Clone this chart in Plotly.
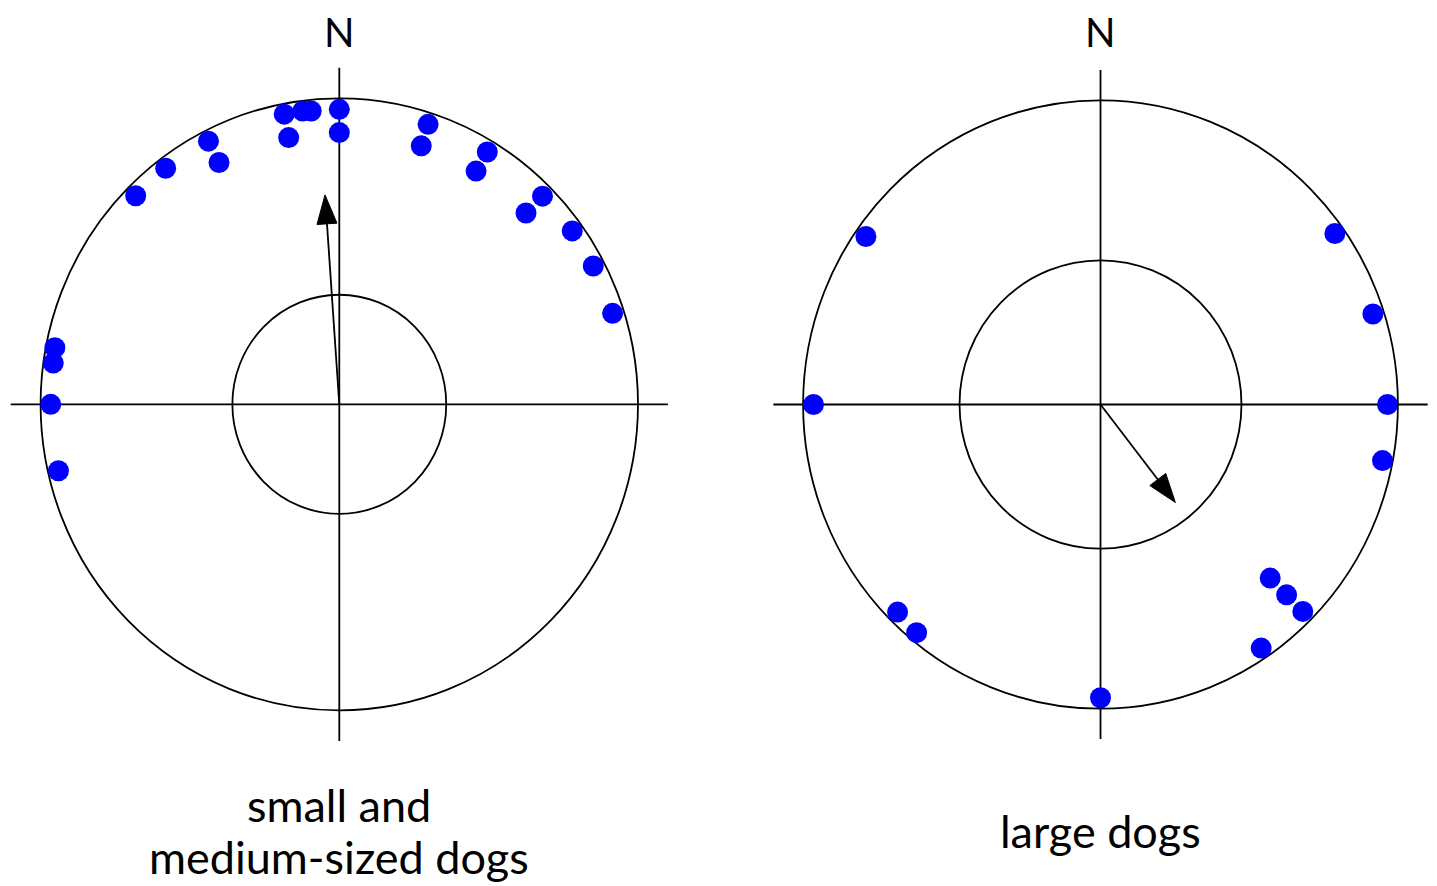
import math
import plotly.graph_objects as go

# ---------------- data ----------------
panel_title_lines = [["small and", "medium-sized dogs"], ["large dogs"]]
north_label = "N"

# bearings (degrees clockwise from north) and radial positions of each dog (outer circle = 1)
small_angles = [0, 0, 352.7, 354.4, 349, 349, 333, 333, 323, 315, 281, 278, 270, 257,
                18, 18, 31, 31, 45, 45, 54, 62, 72]
small_radii = [0.964, 0.888, 0.966, 0.963, 0.966, 0.888, 0.965, 0.887, 0.966, 0.964, 0.970,
               0.967, 0.966, 0.965, 0.962, 0.888, 0.962, 0.889, 0.962, 0.884, 0.964, 0.963, 0.962]

large_angles = [305, 54.5, 72, 270, 90, 101, 225, 219.5, 135, 135, 135, 146, 180]
large_radii = [0.963, 0.968, 0.963, 0.965, 0.965, 0.966, 0.965, 0.972, 0.807, 0.885, 0.962,
               0.966, 0.964]

# mean vector (bearing, length) and critical (Rayleigh) circle radius
mean_angle = [356, 142]
mean_length = [0.686, 0.409]
inner_radius = [0.358, 0.474]

# ---------------- layout ----------------
PAGE_OFFSET = 8                      # default body margin of the html page
W, H = 1437 - PAGE_OFFSET, 886 - PAGE_OFFSET
RANGE = 1.105
# panel centres (page pixels) and pixels per unit radius (x, y)
centres = [(339.3, 404.3), (1100.5, 404.5)]
scales = [(298.7, 306.0), (297.4, 304.2)]
# vertical centre (page pixels) of each title line
title_line_y = [[805, 857], [831]]

domains_x, domains_y = [], []
for (cx, cy), (sx, sy) in zip(centres, scales):
    cx -= PAGE_OFFSET
    cy -= PAGE_OFFSET
    domains_x.append(((cx - RANGE * sx) / W, (cx + RANGE * sx) / W))
    domains_y.append(((H - (cy + RANGE * sy)) / H, (H - (cy - RANGE * sy)) / H))

LINE = dict(color="black", width=1.8)
DOT = "#0000FF"
FONT = "Lato"

fig = go.Figure()
shapes = []
annotations = []

panels = [(small_angles, small_radii), (large_angles, large_radii)]
for i, (angs, rads) in enumerate(panels):
    xa = "x" if i == 0 else "x2"
    ya = "y" if i == 0 else "y2"
    px_x, px_y = scales[i]

    # cross lines
    shapes.append(dict(type="line", xref=xa, yref=ya, x0=-1.1, x1=1.1, y0=0, y1=0, line=LINE, layer="below"))
    shapes.append(dict(type="line", xref=xa, yref=ya, x0=0, x1=0, y0=-1.1, y1=1.1, line=LINE, layer="below"))
    # outer and inner circles
    shapes.append(dict(type="circle", xref=xa, yref=ya, x0=-1, x1=1, y0=-1, y1=1, line=LINE, layer="below"))
    r0 = inner_radius[i]
    shapes.append(dict(type="circle", xref=xa, yref=ya, x0=-r0, x1=r0, y0=-r0, y1=r0, line=LINE, layer="below"))

    # mean vector arrow
    th = math.radians(mean_angle[i])
    tx, ty = mean_length[i] * math.sin(th), mean_length[i] * math.cos(th)
    vx, vy = tx * px_x, ty * px_y
    n = math.hypot(vx, vy)
    ux, uy = vx / n, vy / n
    head_len, head_half = 29, 10
    bx, by = vx - head_len * ux, vy - head_len * uy
    p1 = (bx - head_half * uy, by + head_half * ux)
    p2 = (bx + head_half * uy, by - head_half * ux)
    fig.add_trace(go.Scatter(x=[0, bx / px_x], y=[0, by / px_y], mode="lines",
                             line=dict(color="black", width=1.8), xaxis=xa, yaxis=ya,
                             hoverinfo="skip", showlegend=False))
    fig.add_trace(go.Scatter(x=[tx, p1[0] / px_x, p2[0] / px_x, tx],
                             y=[ty, p1[1] / px_y, p2[1] / px_y, ty],
                             mode="lines", fill="toself", fillcolor="black",
                             line=dict(color="black", width=1), xaxis=xa, yaxis=ya,
                             hoverinfo="skip", showlegend=False))

    # dogs
    xs = [r * math.sin(math.radians(a)) for a, r in zip(angs, rads)]
    ys = [r * math.cos(math.radians(a)) for a, r in zip(angs, rads)]
    fig.add_trace(go.Scatter(x=xs, y=ys, mode="markers",
                             marker=dict(color=DOT, size=21, line=dict(width=0)),
                             xaxis=xa, yaxis=ya, showlegend=False))

    # N label
    cxp = (domains_x[i][0] + domains_x[i][1]) / 2
    annotations.append(dict(text=north_label, xref="paper", yref="paper", x=cxp,
                            y=1 - (32 - PAGE_OFFSET) / H,
                            xanchor="center", yanchor="middle", showarrow=False,
                            font=dict(family=FONT, size=40, color="black")))
    # panel title, one annotation per line
    for line_text, ly in zip(panel_title_lines[i], title_line_y[i]):
        annotations.append(dict(text=line_text, xref="paper", yref="paper", x=cxp,
                                y=1 - (ly - PAGE_OFFSET) / H, xanchor="center", yanchor="middle",
                                showarrow=False, font=dict(family=FONT, size=45, color="black")))

axis_common = dict(range=[-RANGE, RANGE], visible=False, showgrid=False, zeroline=False, fixedrange=True)
fig.update_layout(
    width=W, height=H,
    margin=dict(l=0, r=0, t=0, b=0),
    paper_bgcolor="white", plot_bgcolor="white",
    xaxis=dict(domain=list(domains_x[0]), anchor="y", **axis_common),
    yaxis=dict(domain=list(domains_y[0]), anchor="x", **axis_common),
    xaxis2=dict(domain=list(domains_x[1]), anchor="y2", **axis_common),
    yaxis2=dict(domain=list(domains_y[1]), anchor="x2", **axis_common),
    shapes=shapes, annotations=annotations,
    showlegend=False,
)
fig.write_html("out.html")
